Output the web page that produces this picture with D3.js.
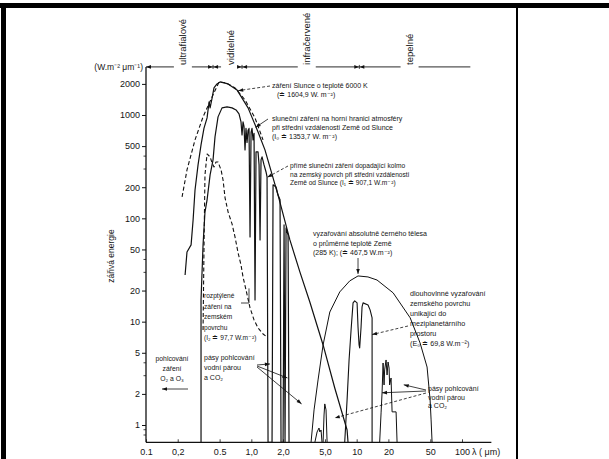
<!DOCTYPE html>
<html><head><meta charset="utf-8">
<script src="https://cdn.jsdelivr.net/npm/d3@7"></script>
<style>
body{margin:0;background:#fff}
svg{display:block}
text{font-family:"Liberation Sans",Arial,Helvetica,sans-serif;fill:#151515}
</style>
</head><body>
<svg id="c" width="609" height="459"></svg>
<script>
// ---------------- DATA ----------------
const categories = ["ultrafialové","viditelné","infračervené","tepelné"];
const categoryLambda = [0.224, 0.628, 3.36, 31.8];
const bandEdges = [0.433, 0.816, 10.6];

const xTicks = [0.1,0.2,0.5,1,2,5,10,20,50,100];
const xTickLabels = ["0.1","0,2","0.5","1,0","2,0","5,0","10","20","50","100"];
const yTicks = [1,2,5,10,20,50,100,200,500,1000,2000];
const yTickLabels = ["1","2","5","10","20","50","100","200","500","1000","2000"];
const yMinorTicks = [0.8,0.9,3,4,30,40,300,400];

// [wavelength µm, spectral irradiance W.m-2.µm-1]
const sun6000K = [[0.220,161],[0.245,294],[0.292,574],[0.348,959],[0.424,1497],[0.494,2090],[0.575,2046],[0.700,1829],[0.871,1400],[1.084,937],[1.291,574]];
const topOfAtmosphere = [[0.235,28.3],[0.245,47.3],[0.268,55.3],[0.280,96.5],[0.292,188],[0.312,329],[0.333,513],[0.355,742],[0.380,937],[0.397,1339],[0.406,1172],[0.424,1454],[0.442,1829],[0.472,2000],[0.505,2090],[0.601,2000],[0.731,1750],[0.931,1172],[1.158,686],[1.347,460],[1.793,168],[2.323,61.8],[2.889,30.3],[3.592,15.5],[4.80,5.95],[6.195,2.28],[8.11,0.895],[8.28,0.68]];
const directSurface = [[0.333,0.68],[0.333,16.2],[0.348,55.3],[0.363,115],[0.380,151],[0.406,263],[0.433,368],[0.452,614],[0.483,959],[0.527,1172],[0.588,1198],[0.656,1172],[0.716,1120],[0.764,1025],[0.798,857],[0.816,641],[0.834,857],[0.852,775],[0.871,459],[0.890,742],[0.910,543],[0.931,710],[0.951,742],[0.972,66],[0.994,679],[1.015,742],[1.038,574],[1.061,664],[1.084,16.2],[1.108,439],[1.158,439],[1.184,329],[1.210,61.8],[1.236,368],[1.264,393],[1.320,329],[1.379,281],[1.410,252],[1.441,0.68],[1.573,0.68],[1.608,211],[1.716,201],[1.793,168],[1.873,151],[1.914,0.68],[2.001,0.68],[2.045,86.4],[2.089,0.68],[2.136,80.7],[2.232,69.0],[2.280,0.68]];
const diffuseSurface = [[0.348,8.3],[0.356,61.8],[0.363,263],[0.380,420],[0.406,393],[0.424,344],[0.442,314],[0.462,351],[0.483,351],[0.516,294],[0.539,235],[0.563,158],[0.602,115],[0.656,88.3],[0.700,66],[0.749,46.2],[0.798,35.4],[0.834,27.1],[0.890,20.3],[0.972,13.6],[1.061,10.4],[1.158,8.7],[1.292,7.6],[1.410,7.1]];
const earth285K = [[3.69,0.68],[3.94,1.40],[4.30,2.73],[4.80,5.95],[5.56,12.4],[6.91,19.4],[8.59,24.8],[10.3,27.7],[12.8,27.1],[15.6,25.3],[22.2,19.0],[32.2,10.9],[40.0,6.22],[46.6,3.64],[49.8,1.75],[50.9,1.12],[52.0,0.68]];
const outgoingWindow = [[7.70,0.68],[8.11,1.75],[8.47,4.26],[8.85,8.3],[9.24,15.2],[9.58,15.9],[10.09,15.2],[10.3,8.89],[10.54,5.95],[10.68,5.56],[11.01,8.89],[11.25,13.9],[11.50,15.2],[12.82,14.5],[13.41,13.0],[14.01,10.9],[14.01,0.68]];
const outgoing4um = [[4.01,0.68],[4.21,0.856],[4.39,0.935],[4.47,0.856],[4.59,0.895],[4.69,0.68]];
const outgoing5um = [[4.80,0.68],[4.90,1.25],[4.98,1.60],[5.12,1.40],[5.24,0.68]];
const outgoing18um = [[16.53,0.68],[17.05,1.31],[17.42,2.04],[17.81,3.98],[18.20,2.44],[18.43,3.41],[19.02,4.26],[19.44,3.05],[19.87,4.07],[20.31,3.56],[20.55,2.44],[21.21,2.85],[21.69,1.34],[23.67,1.34],[24.19,0.68]];

const yBottom = 0.68, yTop = 2920, xRight = 190, headerEnd = 120;

// ---------------- SCALES ----------------
const x = d3.scaleLog().domain([0.1,100]).range([146,462]);
const y = d3.scaleLog().domain([1,1000]).range([425,115]);

const svg = d3.select("#c");

// frame of the scanned page
svg.append("rect").attr("x",0).attr("y",3).attr("width",609).attr("height",5).attr("fill","#000");
svg.append("rect").attr("x",1).attr("y",3).attr("width",5).attr("height",456).attr("fill","#000");
svg.append("rect").attr("x",516).attr("y",8).attr("width",2).attr("height",451).attr("fill","#000");

const ink = "#111";
function arrowHead(g, x2, y2, ang, len=5, w=1.8){
  const c=Math.cos(ang), s=Math.sin(ang);
  const bx=x2-c*len, by=y2-s*len;
  g.append("path").attr("d",`M${x2},${y2}L${bx - s*w},${by + c*w}L${bx + s*w},${by - c*w}Z`).attr("fill",ink);
}
function arrow(g, x1,y1,x2,y2, dashed, head=true){
  g.append("line").attr("x1",x1).attr("y1",y1).attr("x2",x2).attr("y2",y2)
    .attr("stroke",ink).attr("stroke-width",0.8).attr("stroke-dasharray",dashed?"3,2":null);
  if(head) arrowHead(g,x2,y2,Math.atan2(y2-y1,x2-x1));
}

// ---------------- AXES ----------------
const ax = svg.append("g");
ax.append("line").attr("x1",x(0.1)).attr("x2",x(0.1)).attr("y1",y(yTop)).attr("y2",y(yBottom)).attr("stroke",ink).attr("stroke-width",1.3);
ax.append("line").attr("x1",x(0.1)).attr("x2",x(xRight)).attr("y1",y(yBottom)).attr("y2",y(yBottom)).attr("stroke",ink).attr("stroke-width",1.3);

const yAxis = svg.append("g").attr("transform",`translate(${x(0.1)},0)`)
  .call(d3.axisLeft(y).tickValues(yTicks).tickFormat((d,i)=>yTickLabels[i]).tickSize(4).tickPadding(2));
yAxis.select(".domain").remove();
yAxis.selectAll("line").attr("stroke",ink).attr("stroke-width",1);
yAxis.selectAll("text").attr("font-size",9).attr("font-family",null);
svg.append("g").selectAll("line").data(yMinorTicks).join("line")
  .attr("x1",x(0.1)-2.5).attr("x2",x(0.1)).attr("y1",d=>y(d)).attr("y2",d=>y(d)).attr("stroke",ink).attr("stroke-width",0.8);

const xAxis = svg.append("g").attr("transform",`translate(0,${y(yBottom)})`)
  .call(d3.axisBottom(x).tickValues(xTicks).tickFormat((d,i)=>xTickLabels[i]).tickSizeInner(-3).tickSizeOuter(0).tickPadding(6));
xAxis.select(".domain").remove();
xAxis.selectAll("line").attr("stroke",ink).attr("stroke-width",0.8);
xAxis.selectAll("text").attr("font-size",9).attr("font-family",null);
svg.append("text").attr("x",x(100)+10).attr("y",y(yBottom)+12.5).attr("font-size",9).text("λ ( μm)");

// axis titles
svg.append("text").attr("x",x(0.1)-3).attr("y",y(yTop)+3).attr("text-anchor","end").attr("font-size",8.5).text("(W.m⁻² μm⁻¹)");
svg.append("text").attr("transform",`translate(114,256) rotate(-90)`).attr("text-anchor","middle").attr("font-size",8.5).text("zářivá energie");

// ---------------- CATEGORY HEADER ----------------
const hy = y(yTop);
const hg = svg.append("g");
const pts = [x(0.1)];
categoryLambda.forEach((c,i)=>{ pts.push(x(c)); if(i<bandEdges.length) pts.push(x(bandEdges[i])); });
pts.push(x(headerEnd));
for(let i=0;i<pts.length-1;i++){
  let a=pts[i], b=pts[i+1];
  const aIsCat = (i%2===1), bIsCat = ((i+1)%2===1) && i+1<pts.length-1;
  if(aIsCat) a+=9; if(bIsCat) b-=9;
  hg.append("line").attr("x1",a).attr("x2",b).attr("y1",hy).attr("y2",hy).attr("stroke",ink).attr("stroke-width",0.9);
}
arrowHead(hg, x(0.1), hy, Math.PI, 5, 1.8);
bandEdges.forEach(e=>{
  arrowHead(hg, x(e)-0.5, hy, 0, 4.5, 1.8);
  arrowHead(hg, x(e)+0.5, hy, Math.PI, 4.5, 1.8);
  hg.append("line").attr("x1",x(e)).attr("x2",x(e)).attr("y1",hy-2).attr("y2",hy+2).attr("stroke",ink).attr("stroke-width",0.8);
});
categories.forEach((c,i)=>{
  svg.append("text").attr("transform",`translate(${x(categoryLambda[i])+3.5},${hy-2}) rotate(-90)`)
    .attr("font-size",9.5).text(c);
});

// ---------------- CURVES ----------------
const line = d3.line().x(d=>x(d[0])).y(d=>y(d[1]));
const cg = svg.append("g").attr("fill","none").attr("stroke",ink).attr("stroke-linejoin","round");
cg.append("path").datum(sun6000K).attr("d",line).attr("stroke-width",1.1).attr("stroke-dasharray","4,2.5");
cg.append("path").datum(topOfAtmosphere).attr("d",line).attr("stroke-width",1.2);
cg.append("path").datum(directSurface).attr("d",line).attr("stroke-width",1.2);
cg.append("path").datum(diffuseSurface).attr("d",line).attr("stroke-width",1.1).attr("stroke-dasharray","4,2.5");
cg.append("path").datum(earth285K).attr("d",line).attr("stroke-width",1);
cg.append("path").datum(outgoingWindow).attr("d",line).attr("stroke-width",1.1);
cg.append("path").datum(outgoing4um).attr("d",line).attr("stroke-width",1);
cg.append("path").datum(outgoing5um).attr("d",line).attr("stroke-width",1);
cg.append("path").datum(outgoing18um).attr("d",line).attr("stroke-width",1);

// ---------------- ANNOTATIONS ----------------
const ag = svg.append("g");
function block(x0, y0, lh, size, lines){
  lines.forEach((t,i)=>ag.append("text").attr("x",x0).attr("y",y0+i*lh).attr("font-size",size).text(t));
}
block(272, 88, 8, 7, ["záření Slunce o teplotě 6000 K"]);
block(277, 96.5, 8, 7, ["(≐ 1604,9 W. m⁻²)"]);
block(272, 121, 9, 7, ["sluneční záření na horní hranici atmosféry","při střední vzdálenosti Země od Slunce","(I₀ ≐ 1353,7 W. m⁻²)"]);
block(290, 168, 8.5, 6.6, ["přímé sluneční záření dopadající kolmo","na zemský  povrch při střední vzdálenosti","Země od Slunce (I₁ ≐ 907,1 W.m⁻²)"]);
block(313, 236, 9.5, 7, ["vyzařování absolutně černého tělesa","o průměrné teplotě Země","(285 K); (≐ 467,5 W.m⁻²)"]);
block(410, 296, 10, 7.2, ["dlouhovlnné vyzařování","zemského povrchu","unikající do","meziplanetárního","prostoru","(E₀ ≐ 69,8 W.m⁻²)"]);
block(428, 391, 8.5, 7, ["pásy pohlcování","vodní párou","a CO₂"]);
block(204, 298, 10.5, 6.6, ["rozptýlené","záření na","zemském","povrchu","(I₂ ≐ 97,7 W.m⁻²)"]);
block(204, 360, 10, 7, ["pásy pohlcování","vodní párou","a CO₂"]);
ag.append("g").selectAll("text").data(["pohlcování","záření","O₂ a O₃"]).join("text")
  .attr("x",172).attr("y",(d,i)=>361+i*10).attr("text-anchor","middle").attr("font-size",6.8).text(d=>d);

// leaders & arrows (targets placed on the curves through the scales)
arrow(ag, 270, 86, x(0.75), y(1720), true);
arrow(ag, 268, 119, x(1.1), y(760), false);
arrow(ag, 288, 166, x(1.42), y(250), true);
arrow(ag, x(10.3), 258, x(10.3), y(29), false);
arrow(ag, 408, 326, x(14.0), y(7.5), true);
arrow(ag, 426, 390, x(28), y(2.45), false);
arrow(ag, 426, 391, x(17.4), y(2.05), false);
arrow(ag, 426, 393, x(6.2), y(1.17), true);
arrow(ag, 241, 303, x(0.95), 303, false, false);
arrow(ag, x(0.95), 303, x(0.95), y(21), false, false);
arrow(ag, 257, 365, x(1.5), y(3.9), false);
arrow(ag, 257, 366, x(2.2), y(2.85), false);
arrow(ag, 257, 367, x(3.0), y(1.6), false);
arrow(ag, 188, 389, 162, 389, false);
</script>
</body></html>
